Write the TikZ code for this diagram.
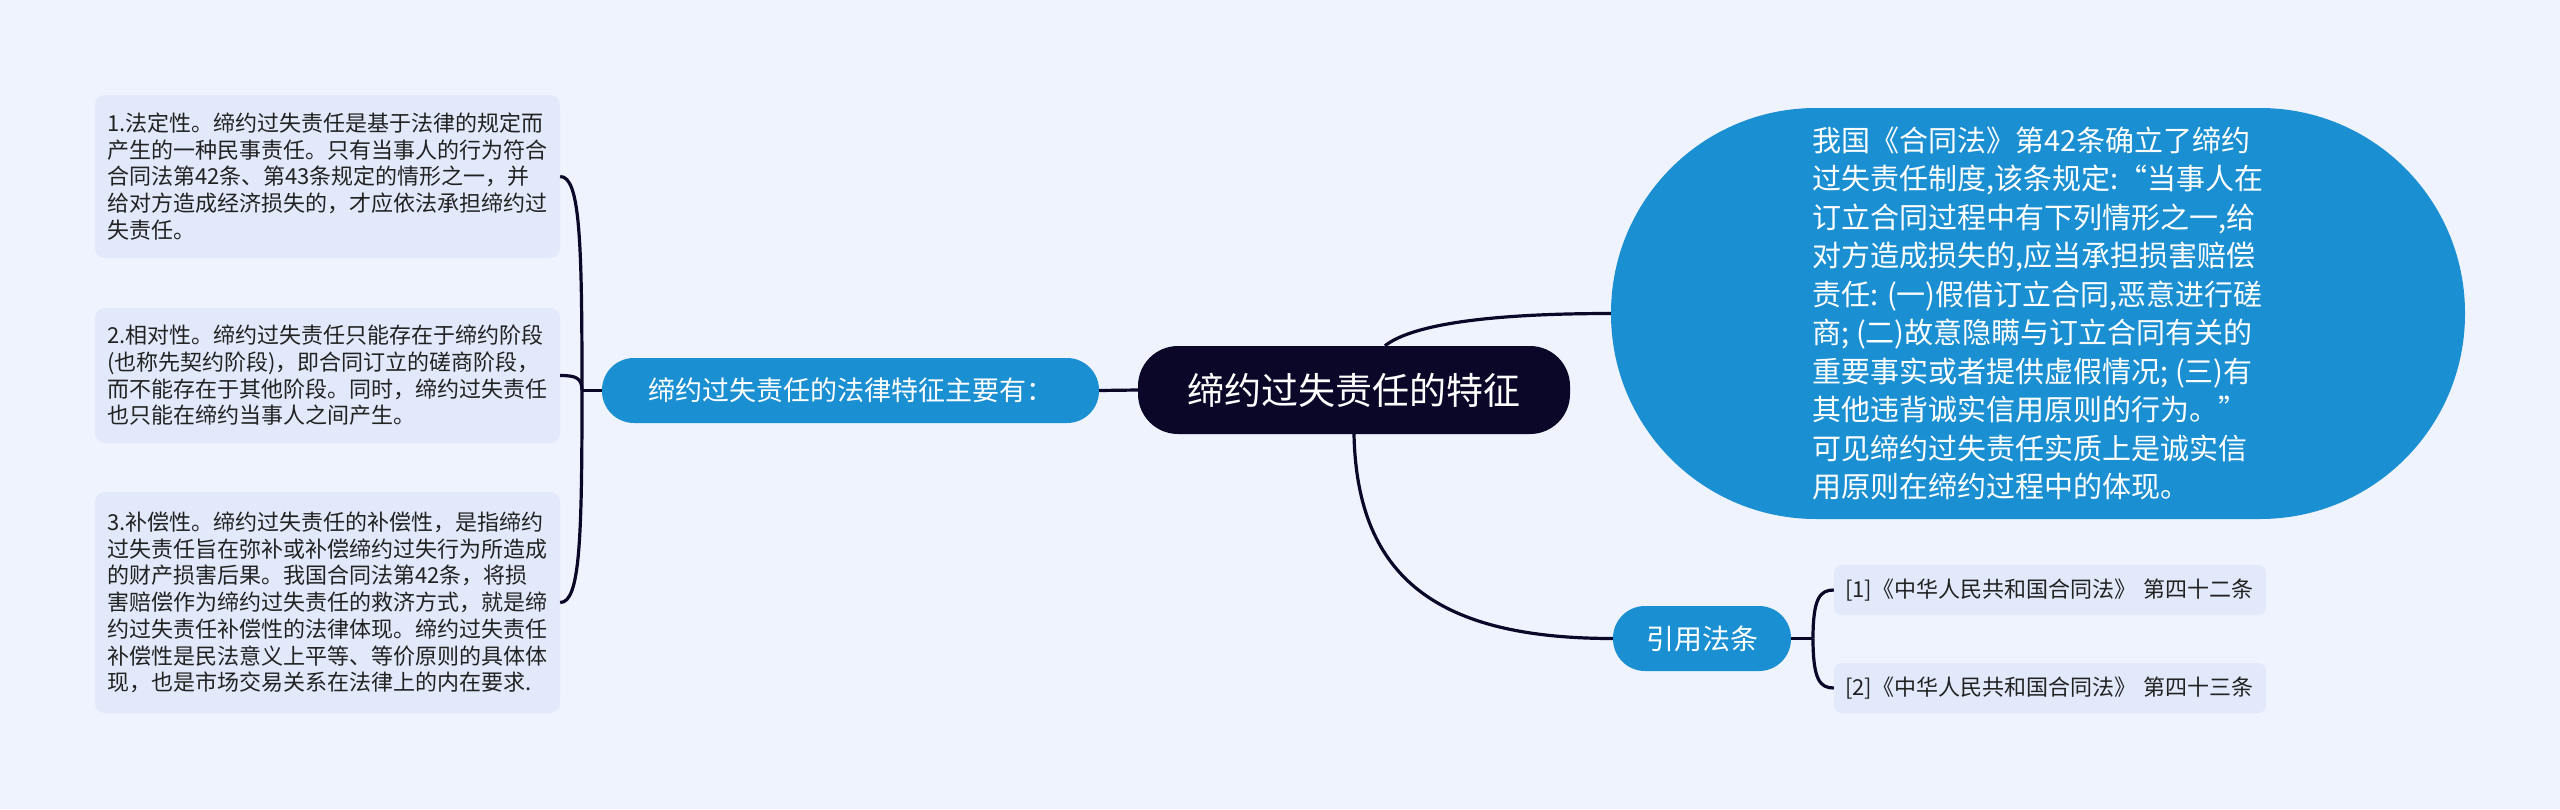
\documentclass[tikz,border=0pt]{standalone}
\usepackage{fontspec}
\setmainfont{Noto Sans CJK SC}
\definecolor{bg}{RGB}{238,243,253}
\definecolor{leaf}{RGB}{225,233,250}
\definecolor{mblue}{RGB}{26,143,209}
\definecolor{navy}{RGB}{11,7,41}
\definecolor{ink}{RGB}{34,34,34}
\begin{document}
\begin{tikzpicture}[x=1pt,y=-1pt,
  conn/.style={draw=navy,line width=3.2pt},
  rootbox/.style={fill=navy,text=white,rounded corners=40,minimum width=432,minimum height=88,inner sep=0,font=\fontsize{37}{44}\selectfont},
  subbox/.style={fill=mblue,text=white,rounded corners=32,minimum height=65,inner sep=0,font=\fontsize{27}{32}\selectfont},
  leafbox/.style={fill=leaf,text=ink,rounded corners=10,text width=441,inner xsep=12,inner ysep=0,align=left,font=\fontsize{22}{26.7}\selectfont},
  refbox/.style={fill=leaf,text=ink,rounded corners=8,minimum height=50,text width=410,inner xsep=11,inner ysep=0,align=left,font=\fontsize{22}{26}\selectfont},
  blobbox/.style={fill=mblue,text=white,rounded corners=205,minimum width=854,minimum height=411,inner sep=0,align=left,font=\fontsize{29}{38.5}\selectfont}]
\fill[bg] (0,0) rectangle (2560,809);
\useasboundingbox (0,0) rectangle (2560,809);

\node[rootbox] (root) at (1354,390) {缔约过失责任的特征};
\node[subbox,minimum width=497] (feat) at (850.5,390.5) {缔约过失责任的法律特征主要有：};

\node[leafbox,minimum height=163] (b1) at (327.5,176.5) {1.法定性。缔约过失责任是基于法律的规定而\\产生的一种民事责任。只有当事人的行为符合\\合同法第42条、第43条规定的情形之一，并\\给对方造成经济损失的，才应依法承担缔约过\\失责任。};
\node[leafbox,minimum height=135] (b2) at (327.5,375.5) {2.相对性。缔约过失责任只能存在于缔约阶段\\(也称先契约阶段)，即合同订立的磋商阶段，\\而不能存在于其他阶段。同时，缔约过失责任\\也只能在缔约当事人之间产生。};
\node[leafbox,minimum height=221] (b3) at (327.5,602.5) {3.补偿性。缔约过失责任的补偿性，是指缔约\\过失责任旨在弥补或补偿缔约过失行为所造成\\的财产损害后果。我国合同法第42条，将损\\害赔偿作为缔约过失责任的救济方式，就是缔\\约过失责任补偿性的法律体现。缔约过失责任\\补偿性是民法意义上平等、等价原则的具体体\\现，也是市场交易关系在法律上的内在要求.};

\node[blobbox] (law) at (2038,313.5) {我国《合同法》第42条确立了缔约\\过失责任制度,该条规定:“当事人在\\订立合同过程中有下列情形之一,给\\对方造成损失的,应当承担损害赔偿\\责任: (一)假借订立合同,恶意进行磋\\商; (二)故意隐瞒与订立合同有关的\\重要事实或者提供虚假情况; (三)有\\其他违背诚实信用原则的行为。”\\可见缔约过失责任实质上是诚实信\\用原则在缔约过程中的体现。};

\node[subbox,minimum width=178,font=\fontsize{28}{33}\selectfont] (cite) at (1702,638.5) {引用法条};
\node[refbox] (r1) at (2050,590) {\mbox{[1]《中华人民共和国合同法》 第四十二条}};
\node[refbox] (r2) at (2050,688) {\mbox{[2]《中华人民共和国合同法》 第四十三条}};

% left branch
\coordinate (jl) at (582,390.5);
\draw[conn] (feat.west) -- (jl);
\draw[conn] (jl) .. controls (582,240) and (580,176.5) .. (b1.east);
\draw[conn] (jl) .. controls (582,378) and (576,375.5) .. (b2.east);
\draw[conn] (jl) .. controls (582,540) and (580,602.5) .. (b3.east);
\draw[conn] (feat.east) -- (root.west);

% right branches
\draw[conn] (root.55) .. controls (1410,326) and (1480,313.5) .. (law.west);
\draw[conn] (root.south) .. controls (1357,580) and (1440,638.5) .. (cite.west);
\coordinate (jr) at (1813,638.5);
\draw[conn] (cite.east) -- (jr);
\draw[conn] (jr) .. controls (1813,598) and (1820,590) .. (r1.west);
\draw[conn] (jr) .. controls (1813,680) and (1820,688) .. (r2.west);
\end{tikzpicture}
\end{document}
